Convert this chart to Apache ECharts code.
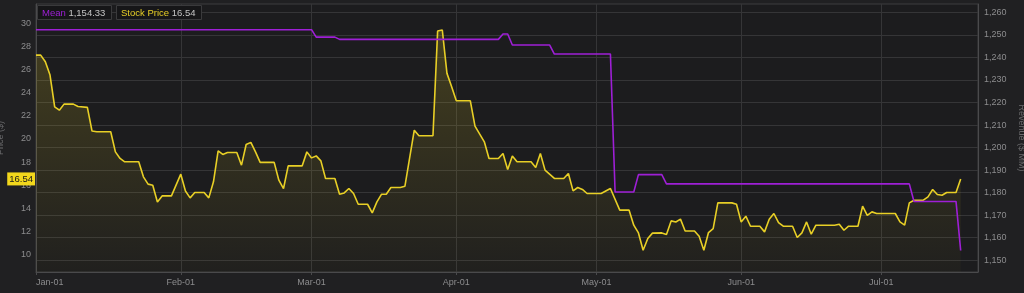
<!DOCTYPE html>
<html>
<head>
<meta charset="utf-8">
<style>
html,body{margin:0;padding:0;background:#202022;}
#chart{width:1024px;height:293px;}
</style>
<script src="https://cdn.jsdelivr.net/npm/echarts@6/dist/echarts.min.js"></script>
</head>
<body>
<div id="chart"></div>
<script>
// ---- data ----
const priceDates = ['2014-01-01','2014-01-02','2014-01-03','2014-01-04','2014-01-05','2014-01-06','2014-01-07','2014-01-09','2014-01-10','2014-01-12','2014-01-13','2014-01-14','2014-01-17','2014-01-18','2014-01-19','2014-01-20','2014-01-23','2014-01-24','2014-01-25','2014-01-26','2014-01-27','2014-01-28','2014-01-30','2014-02-01','2014-02-02','2014-02-03','2014-02-04','2014-02-06','2014-02-07','2014-02-08','2014-02-09','2014-02-10','2014-02-11','2014-02-13','2014-02-14','2014-02-15','2014-02-16','2014-02-17','2014-02-18','2014-02-21','2014-02-22','2014-02-23','2014-02-24','2014-02-27','2014-02-28','2014-03-01','2014-03-02','2014-03-03','2014-03-04','2014-03-06','2014-03-07','2014-03-08','2014-03-09','2014-03-10','2014-03-11','2014-03-13','2014-03-14','2014-03-15','2014-03-16','2014-03-17','2014-03-18','2014-03-20','2014-03-21','2014-03-23','2014-03-24','2014-03-27','2014-03-28','2014-03-29','2014-03-30','2014-03-31','2014-04-01','2014-04-04','2014-04-05','2014-04-07','2014-04-08','2014-04-10','2014-04-11','2014-04-12','2014-04-13','2014-04-14','2014-04-17','2014-04-18','2014-04-19','2014-04-20','2014-04-22','2014-04-24','2014-04-25','2014-04-26','2014-04-27','2014-04-28','2014-04-29','2014-05-02','2014-05-04','2014-05-06','2014-05-08','2014-05-09','2014-05-10','2014-05-11','2014-05-12','2014-05-13','2014-05-15','2014-05-16','2014-05-17','2014-05-18','2014-05-19','2014-05-20','2014-05-22','2014-05-23','2014-05-24','2014-05-25','2014-05-26','2014-05-27','2014-05-30','2014-05-31','2014-06-01','2014-06-02','2014-06-03','2014-06-05','2014-06-06','2014-06-07','2014-06-08','2014-06-09','2014-06-10','2014-06-12','2014-06-13','2014-06-14','2014-06-15','2014-06-16','2014-06-17','2014-06-21','2014-06-22','2014-06-23','2014-06-24','2014-06-26','2014-06-27','2014-06-28','2014-06-29','2014-06-30','2014-07-04','2014-07-05','2014-07-06','2014-07-07','2014-07-08','2014-07-10','2014-07-11','2014-07-12','2014-07-13','2014-07-14','2014-07-15','2014-07-17','2014-07-18'];
const priceValues = [27.25,27.25,26.68,25.52,22.78,22.49,23.01,23.01,22.81,22.73,20.68,20.62,20.62,18.88,18.31,18.02,18.02,16.72,16.09,16.0,14.55,15.07,15.07,16.95,15.5,14.9,15.37,15.37,14.9,16.29,18.97,18.66,18.83,18.83,17.73,19.52,19.7,18.88,17.97,17.97,16.43,15.71,17.67,17.67,18.88,18.36,18.53,18.1,16.58,16.58,15.22,15.33,15.71,15.28,14.35,14.35,13.6,14.55,15.22,15.22,15.8,15.8,15.91,20.76,20.27,20.27,29.33,29.42,25.67,24.51,23.3,23.3,21.11,19.75,18.31,18.31,18.74,17.36,18.53,18.02,18.02,17.53,18.74,17.3,16.58,16.58,17.01,15.51,15.8,15.63,15.28,15.28,15.71,13.84,13.84,12.54,11.87,10.37,11.39,11.85,11.87,11.73,12.91,12.82,13.06,12.04,12.04,11.58,10.37,11.9,12.25,14.47,14.47,14.35,12.82,13.32,12.45,12.45,11.96,13.06,13.55,12.77,12.45,12.45,11.47,11.87,12.82,11.76,12.54,12.54,12.62,12.1,12.45,12.45,14.18,13.38,13.69,13.55,13.55,12.82,12.54,14.47,14.7,14.7,14.99,15.63,15.19,15.13,15.37,15.37,16.54];

const meanDates = ['2014-01-01','2014-03-01','2014-03-02','2014-03-06','2014-03-07','2014-04-10','2014-04-11','2014-04-12','2014-04-13','2014-04-21','2014-04-22','2014-05-04','2014-05-05','2014-05-09','2014-05-10','2014-05-15','2014-05-16','2014-07-07','2014-07-08','2014-07-17','2014-07-18'];
const meanValues = [1252.3,1252.3,1249.0,1249.0,1248.0,1248.0,1250.4,1250.4,1245.5,1245.5,1241.5,1241.5,1180.3,1180.3,1188.0,1188.0,1183.9,1183.9,1176.1,1176.1,1154.33];

const monthTicks = ['2014-01-01','2014-02-01','2014-03-01','2014-04-01','2014-05-01','2014-06-01','2014-07-01'];
const monthNames = ['Jan','Feb','Mar','Apr','May','Jun','Jul','Aug','Sep','Oct','Nov','Dec'];
const priceTicks = [10,12,14,16,18,20,22,24,26,28,30];
const revenueTicks = [1150,1160,1170,1180,1190,1200,1210,1220,1230,1240,1250,1260];

// ---- chart ----
const toTs = s => { const p = s.split('-').map(Number); return new Date(p[0], p[1]-1, p[2]).getTime(); };
const fmt = (v, d) => v.toLocaleString('en-US', {minimumFractionDigits: d, maximumFractionDigits: d});
const lastMean = meanValues[meanValues.length-1];
const lastPrice = priceValues[priceValues.length-1];
const YELLOW = '#e8cf26', PURPLE = '#9e1fd6';
const FONT = 'Liberation Sans, Arial, sans-serif';
const labelFont = {fontFamily: FONT, fontSize: 9, color: '#8c8c8e'};
const rich = c => ({
  a: {color: c, fontSize: 9.5, fontFamily: FONT, fontWeight: 'normal'},
  b: {color: '#c4c4c4', fontSize: 9.5, fontFamily: FONT, fontWeight: 'normal'}
});

const chart = echarts.init(document.getElementById('chart'), null, {renderer: 'canvas'});
chart.setOption({
  animation: false,
  backgroundColor: '#202022',
  textStyle: {fontFamily: FONT},
  title: [
    {left: 37, top: 5, padding: [3, 6, 2, 5], backgroundColor: '#161618', borderColor: '#3a3a3c', borderWidth: 1,
     text: '{a|Mean} {b|' + fmt(lastMean, 2) + '}',
     textStyle: {fontWeight: 'normal', fontSize: 9.5, rich: rich(PURPLE)}},
    {left: 116, top: 5, padding: [3, 6, 2, 5], backgroundColor: '#161618', borderColor: '#3a3a3c', borderWidth: 1,
     text: '{a|Stock Price} {b|' + fmt(lastPrice, 2) + '}',
     textStyle: {fontWeight: 'normal', fontSize: 9.5, rich: rich(YELLOW)}}
  ],
  grid: {left: 36, right: 46, top: 4, bottom: 21, show: true, backgroundColor: '#1c1c1e', borderColor: '#3c3c3e', borderWidth: 1,
         containLabel: false, outerBoundsMode: 'none'},
  xAxis: {
    type: 'value',
    min: toTs('2014-01-01'),
    max: toTs('2014-07-21') + 17 * 3600 * 1000,
    axisLine: {lineStyle: {color: '#4a4a4c'}},
    axisTick: {show: true, length: 3, lineStyle: {color: '#4a4a4c'}, customValues: monthTicks.map(toTs)},
    splitLine: {show: true, lineStyle: {color: '#353537', width: 1}},
    axisLabel: Object.assign({}, labelFont, {
      customValues: monthTicks.map(toTs),
      margin: 6,
      alignMinLabel: 'left',
      formatter: v => { const d = new Date(v); return monthNames[d.getMonth()] + '-' + String(d.getDate()).padStart(2, '0'); }
    })
  },
  yAxis: [
    {
      type: 'value', position: 'left', min: 8.49, max: 31.67,
      name: 'Price ($)', nameLocation: 'middle', nameGap: 31, nameRotate: 90,
      nameTextStyle: {color: '#6a6a6c', fontSize: 9},
      axisLine: {show: true, lineStyle: {color: '#4a4a4c'}},
      axisTick: {show: false, customValues: priceTicks},
      splitLine: {show: false},
      axisLabel: Object.assign({}, labelFont, {customValues: priceTicks, margin: 5})
    },
    {
      type: 'value', position: 'right', min: 1144.8, max: 1263.7,
      name: 'Revenue ($ MM)', nameLocation: 'middle', nameGap: 38, nameRotate: -90,
      nameTextStyle: {color: '#6a6a6c', fontSize: 9},
      axisLine: {show: true, lineStyle: {color: '#4a4a4c'}},
      axisTick: {show: false, customValues: revenueTicks},
      splitLine: {show: true, lineStyle: {color: '#353537', width: 1}},
      axisLabel: Object.assign({}, labelFont, {customValues: revenueTicks, margin: 6, formatter: v => fmt(v, 0)})
    }
  ],
  series: [
    {
      name: 'Stock Price', type: 'line', yAxisIndex: 0, showSymbol: false, symbol: 'none', clip: false,
      data: priceDates.map((d, i) => [toTs(d), priceValues[i]]),
      lineStyle: {color: YELLOW, width: 1.6},
      itemStyle: {color: YELLOW},
      areaStyle: {color: new echarts.graphic.LinearGradient(0, 0, 0, 1, [
        {offset: 0, color: 'rgba(232,207,38,0.28)'},
        {offset: 1, color: 'rgba(232,207,38,0.03)'}
      ])},
      markLine: {
        silent: true, symbol: 'none', animation: false, z: 10,
        lineStyle: {color: 'rgba(0,0,0,0)', width: 0},
        data: [{yAxis: lastPrice}],
        label: {show: true, position: 'start', distance: 1, formatter: () => fmt(lastPrice, 2),
                backgroundColor: '#f2d71c', color: '#1a1a1a', fontSize: 9.5, fontFamily: FONT, padding: [2, 2, 1, 2]}
      }
    },
    {
      name: 'Mean', type: 'line', yAxisIndex: 1, showSymbol: false, symbol: 'none',
      data: meanDates.map((d, i) => [toTs(d), meanValues[i]]),
      lineStyle: {color: PURPLE, width: 1.6},
      itemStyle: {color: PURPLE}
    }
  ]
});
</script>
</body>
</html>
